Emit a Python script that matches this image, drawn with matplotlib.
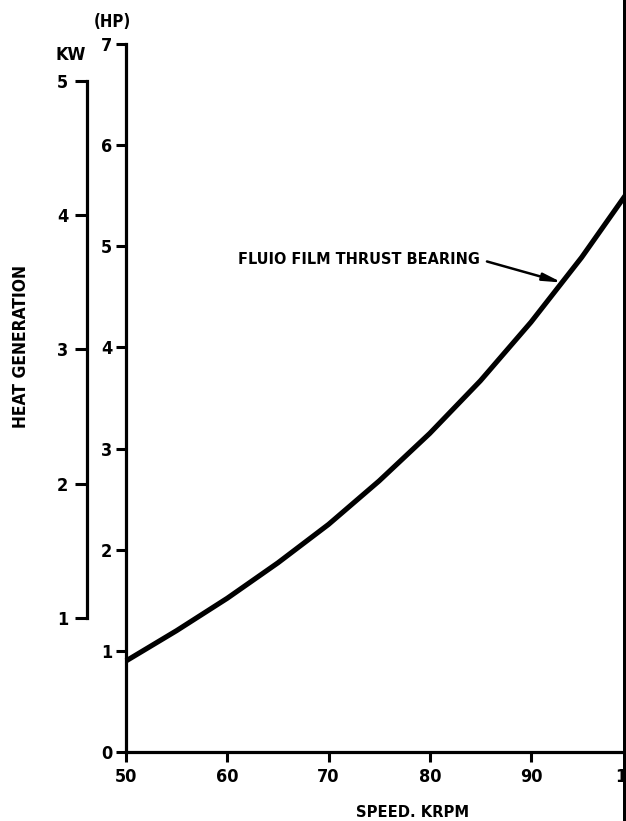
import matplotlib
matplotlib.use("Agg")
import matplotlib.pyplot as plt
from matplotlib import font_manager
from matplotlib.patches import Rectangle
import numpy as np

# ---- data -------------------------------------------------------------
speed_krpm = [50, 55, 60, 65, 70, 75, 80, 85, 90, 95, 100]
heat_hp = [0.90, 1.20, 1.52, 1.87, 2.25, 2.68, 3.15, 3.67, 4.25, 4.89, 5.60]
x_ticks = [50, 60, 70, 80, 90, 100]
hp_ticks = [0, 1, 2, 3, 4, 5, 6, 7]
kw_ticks = [1, 2, 3, 4, 5]
HP_PER_KW = 1.327
curve_label = "FLUIO FILM THRUST BEARING"
label_at_speed = 93.06

# ---- font: prefer a narrow bold face ----------------------------------
fonts = font_manager.fontManager.ttflist
names = {f.name for f in fonts}
family, stretch = "DejaVu Sans", "normal"
narrow = [f for f in fonts if f.weight in ("bold", 700) and
          (f.stretch in ("condensed", "semi-condensed", "extra-condensed") or
           "Narrow" in f.name or "Condensed" in f.name)]
if "Liberation Sans Narrow" in names:
    family, stretch = "Liberation Sans Narrow", "condensed"
elif narrow:
    pick = sorted(narrow, key=lambda f: (0 if "Sans" in f.name else 1, f.name))[0]
    family, stretch = pick.name, pick.stretch
elif "Roboto" in names:
    family = "Roboto"
plt.rcParams["font.family"] = family
plt.rcParams["font.stretch"] = stretch
plt.rcParams["font.weight"] = "bold"

W, H = 626, 821
fig = plt.figure(figsize=(W / 100, H / 100), dpi=100)

def fx(px):
    return px / W

def fy(py):
    return 1 - py / H

# main axes: HP scale on the left spine, speed along the bottom
x0, x1 = 126, 632.25
y0, y1 = 752, 44
ax = fig.add_axes([fx(x0), fy(y0), fx(x1) - fx(x0), fy(y1) - fy(y0)])
ax.set_xlim(50, 100)
ax.set_ylim(0, 7)
for s in ["top", "right"]:
    ax.spines[s].set_visible(False)
for s in ["left", "bottom"]:
    ax.spines[s].set_linewidth(2.3)
ax.set_xticks(x_ticks)
ax.set_yticks(hp_ticks)
ax.tick_params(axis="y", direction="out", length=7.5, width=2.2, pad=2.5, labelsize=13)
ax.tick_params(axis="x", direction="out", length=7, width=2.2, pad=4.5, labelsize=13)

ax.plot(speed_krpm, heat_hp, color="black", lw=3.7, solid_joinstyle="round",
        solid_capstyle="butt", clip_on=False)

# curve annotation
ax.text(61.06, 4.865, curve_label, fontsize=11.6, fontweight="bold", va="center", ha="left")
tip_y = float(np.interp(label_at_speed, speed_krpm, heat_hp))
ax.annotate("", xy=(label_at_speed, tip_y), xytext=(85.65, 4.85),
            arrowprops=dict(arrowstyle="-|>,head_length=1.1,head_width=0.22",
                            lw=1.8, color="black", shrinkA=0, shrinkB=0))

# KW scale on a separate spine
kx = 87
axk = fig.add_axes([fx(kx), fy(y0), 0.001, fy(y1) - fy(y0)])
axk.set_ylim(0, 7 / HP_PER_KW)
axk.set_xticks([])
for s in ["top", "right", "bottom"]:
    axk.spines[s].set_visible(False)
axk.spines["left"].set_linewidth(2.3)
axk.spines["left"].set_bounds(1, 5)
axk.set_yticks(kw_ticks)
axk.tick_params(axis="y", direction="out", length=9, width=2.2, pad=4.5, labelsize=13)
axk.patch.set_visible(False)

# unit labels and titles
fig.text(fx(71), fy(55), "KW", fontsize=13, fontweight="bold", ha="center", va="center")
fig.text(fx(112), fy(22), "(HP)", fontsize=12, fontweight="bold", ha="center", va="center")
fig.text(fx(21), fy(346), "HEAT GENERATION", fontsize=12.5, fontweight="bold",
         rotation=90, ha="center", va="center")
fig.text(fx(413), fy(812), "SPEED. KRPM", fontsize=11.8, fontweight="bold",
         ha="center", va="center")

# heavy rule along the right edge
fig.patches.append(Rectangle((fx(622.5), 0), 1 - fx(622.5), 1, transform=fig.transFigure,
                             facecolor="black", edgecolor="none", zorder=10))

fig.savefig("out.png", dpi=100)
